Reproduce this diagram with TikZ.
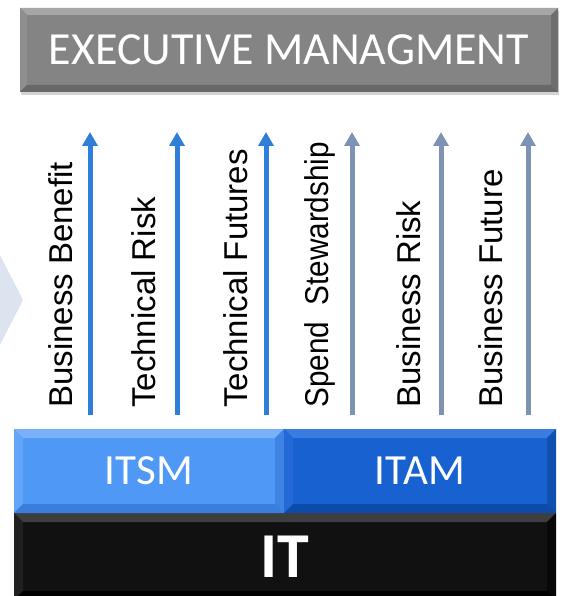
\documentclass[tikz,border=0pt]{standalone}
\usepackage{fontspec}
\setmainfont{Liberation Sans}
\newfontfamily\calibri{Carlito}
\usetikzlibrary{arrows.meta,shadows}
\definecolor{execfill}{HTML}{848484}
\definecolor{exectop}{HTML}{A6A6A6}
\definecolor{execleft}{HTML}{8F8F8F}
\definecolor{execright}{HTML}{6E6E6E}
\definecolor{execbot}{HTML}{686868}
\definecolor{itsmfill}{HTML}{4F98F6}
\definecolor{itsmtop}{HTML}{78B1FA}
\definecolor{itsmleft}{HTML}{62A4F8}
\definecolor{itsmright}{HTML}{3E83E2}
\definecolor{itsmbot}{HTML}{3A7DDA}
\definecolor{itamfill}{HTML}{1762D0}
\definecolor{itamtop}{HTML}{3A7CE0}
\definecolor{itamleft}{HTML}{2469D8}
\definecolor{itamright}{HTML}{0F50B0}
\definecolor{itambot}{HTML}{0D4BA8}
\definecolor{itfill}{HTML}{111111}
\definecolor{ittop}{HTML}{3E3E3E}
\definecolor{itleft}{HTML}{202020}
\definecolor{itright}{HTML}{080808}
\definecolor{itbot}{HTML}{000000}
\definecolor{arrowblue}{HTML}{2F7ED8}
\definecolor{arrowgray}{HTML}{7E92B4}
\definecolor{chevfill}{HTML}{DCE4F0}
\tikzset{
  bevel/.style n args={5}{path picture={
    \path (path picture bounding box.north west) coordinate (bvnw)
          (path picture bounding box.north east) coordinate (bvne)
          (path picture bounding box.south west) coordinate (bvsw)
          (path picture bounding box.south east) coordinate (bvse);
    \coordinate (bvinw) at ([xshift=#1,yshift=-#1]bvnw);
    \coordinate (bvine) at ([xshift=-#1,yshift=-#1]bvne);
    \coordinate (bvisw) at ([xshift=#1,yshift=#1]bvsw);
    \coordinate (bvise) at ([xshift=-#1,yshift=#1]bvse);
    \fill[#2] (bvnw) -- (bvne) -- (bvine) -- (bvinw) -- cycle;
    \fill[#3] (bvnw) -- (bvinw) -- (bvisw) -- (bvsw) -- cycle;
    \fill[#4] (bvne) -- (bvine) -- (bvise) -- (bvse) -- cycle;
    \fill[#5] (bvsw) -- (bvisw) -- (bvise) -- (bvse) -- cycle;
  }},
  panel/.style={rectangle, inner sep=0pt, text=white, font=\calibri},
  label/.style={rotate=90, anchor=base west, inner sep=0pt, font=\fontsize{33}{36}\selectfont},
  upblue/.style={draw=arrowblue, line width=5pt, -{Triangle[width=15pt,length=14pt]}},
  upgray/.style={draw=arrowgray, line width=5pt, -{Triangle[width=15pt,length=14pt]}}
}
\begin{document}
\begin{tikzpicture}[x=1pt,y=-1pt]
\useasboundingbox (0,0) rectangle (566,596);
% chevron fragment
\fill[chevfill] (0,255) -- (23,300) -- (0,345) -- cycle;
% executive box
\node[panel, fill=execfill, minimum width=538pt, minimum height=84pt,
      drop shadow={opacity=0.35, shadow xshift=1pt, shadow yshift=-3pt},
      bevel={7pt}{exectop}{execleft}{execright}{execbot},
      font=\calibri\fontsize{46}{50}\selectfont] (exec) at (289,50) {EXECUTIVE MANAGMENT};
% bottom panels
\node[panel, fill=itfill, minimum width=542pt, minimum height=87pt,
      bevel={9pt}{ittop}{itleft}{itright}{itbot},
      font=\calibri\bfseries\fontsize{64}{68}\selectfont] (it) at (285,556.5) {IT};
\node[panel, fill=itsmfill, minimum width=270pt, minimum height=84pt,
      bevel={9pt}{itsmtop}{itsmleft}{itsmright}{itsmbot},
      font=\calibri\fontsize{43}{46}\selectfont] (itsm) at (149,471) {ITSM};
\node[panel, fill=itamfill, minimum width=272pt, minimum height=84pt,
      bevel={9pt}{itamtop}{itamleft}{itamright}{itambot},
      font=\calibri\fontsize{43}{46}\selectfont] (itam) at (420,471) {ITAM};
% labels
\node[label] (l1) at (72,408) {Business Benefit};
\node[label] (l2) at (155,408) {Technical Risk};
\node[label] (l3) at (247,408) {Technical Futures};
\node[label] (l4) at (328,408) {\scalebox{0.9}[1]{Spend~~Stewardship}};
\node[label] (l5) at (420,408) {Business Risk};
\node[label] (l6) at (502,408) {Business Future};
% arrows
\coordinate (a1s) at (90,415);  \coordinate (a1e) at (90,132);
\coordinate (a2s) at (177,415); \coordinate (a2e) at (177,132);
\coordinate (a3s) at (266,415); \coordinate (a3e) at (266,132);
\coordinate (a4s) at (352,415); \coordinate (a4e) at (352,132);
\coordinate (a5s) at (441,415); \coordinate (a5e) at (441,132);
\coordinate (a6s) at (528,415); \coordinate (a6e) at (528,132);
\draw[upblue] (a1s) -- (a1e);
\draw[upblue] (a2s) -- (a2e);
\draw[upblue] (a3s) -- (a3e);
\draw[upgray] (a4s) -- (a4e);
\draw[upgray] (a5s) -- (a5e);
\draw[upgray] (a6s) -- (a6e);
\end{tikzpicture}
\end{document}
